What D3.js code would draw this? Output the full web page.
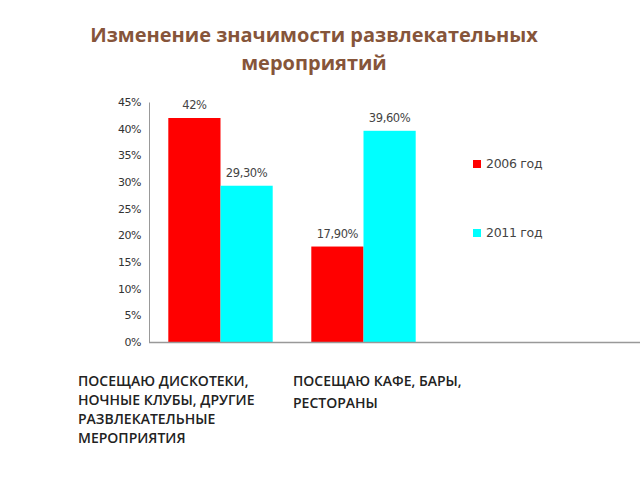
<!DOCTYPE html>
<html>
<head>
<meta charset="utf-8">
<script src="https://cdn.jsdelivr.net/npm/d3@7"></script>
<style>
  body { margin: 0; background: #fff; }
</style>
</head>
<body>
<svg id="chart" width="640" height="480"></svg>
<script>
// данные
let categories = ["ПОСЕЩАЮ ДИСКОТЕКИ, НОЧНЫЕ КЛУБЫ, ДРУГИЕ РАЗВЛЕКАТЕЛЬНЫЕ МЕРОПРИЯТИЯ", "ПОСЕЩАЮ КАФЕ, БАРЫ, РЕСТОРАНЫ"];
let series = ["2006 год", "2011 год"];
let values2006 = [42, 17.9];
let values2011 = [29.3, 39.6];
let valueLabels2006 = ["42%", "17,90%"];
let valueLabels2011 = ["29,30%", "39,60%"];
let yTicks = [0, 5, 10, 15, 20, 25, 30, 35, 40, 45];
let categoryLines = [
  ["ПОСЕЩАЮ ДИСКОТЕКИ,", "НОЧНЫЕ КЛУБЫ, ДРУГИЕ", "РАЗВЛЕКАТЕЛЬНЫЕ", "МЕРОПРИЯТИЯ"],
  ["ПОСЕЩАЮ КАФЕ, БАРЫ,", "РЕСТОРАНЫ"]
];

init();
function init(){
  let svg = d3.select("#chart");
  let colors = ["#ff0000", "#00ffff"];
  let left = 149, bottom = 342, top = 102, bandW = 143;

  // заголовок
  let title = svg.append("text")
    .attr("x", 314).attr("y", 42)
    .attr("text-anchor", "middle")
    .attr("fill", "#86553a")
    .style("font-family", "'Open Sans', 'Noto Sans', sans-serif")
    .style("font-size", "20px")
    .style("font-weight", "bold");
  title.append("tspan").attr("x", 314).attr("dy", 0).text("Изменение значимости развлекательных");
  title.append("tspan").attr("x", 314).attr("dy", 28).text("мероприятий");

  let x0 = d3.scaleBand()
    .domain(categories)
    .range([left, left + bandW * categories.length])
    .paddingInner(0.27)
    .paddingOuter(0.135);
  let x1 = d3.scaleBand().domain(series).range([0, x0.bandwidth()]);
  let y = d3.scaleLinear().domain([0, 45]).range([bottom, top]);

  // ось Y
  let yAxis = d3.axisLeft(y)
    .tickValues(yTicks)
    .tickSize(0)
    .tickPadding(8)
    .tickFormat(d => d + "%");
  let gy = svg.append("g").attr("transform", "translate(" + left + ",0)").call(yAxis);
  gy.select(".domain").attr("stroke", "#999");
  gy.selectAll("text")
    .attr("fill", "#333")
    .style("font-family", "'DejaVu Sans', sans-serif")
    .style("font-size", "11px")
    .style("letter-spacing", "-0.5px");

  // столбцы
  let rows = categories.map((c, i) => ({cat: c, vals: [values2006[i], values2011[i]], labs: [valueLabels2006[i], valueLabels2011[i]]}));
  let groups = svg.selectAll("g.cat")
    .data(rows)
    .enter()
    .append("g")
    .attr("class", "cat")
    .attr("transform", d => "translate(" + x0(d.cat) + ",0)");

  groups.selectAll("rect")
    .data(d => d.vals.map((v, j) => ({s: series[j], v: v, j: j})))
    .enter()
    .append("rect")
    .attr("x", d => x1(d.s))
    .attr("y", d => y(d.v))
    .attr("width", x1.bandwidth())
    .attr("height", d => bottom - y(d.v))
    .attr("fill", d => colors[d.j]);

  groups.selectAll("text.val")
    .data(d => d.vals.map((v, j) => ({s: series[j], v: v, lab: d.labs[j]})))
    .enter()
    .append("text")
    .attr("class", "val")
    .attr("x", d => x1(d.s) + x1.bandwidth() / 2)
    .attr("y", d => y(d.v) - 9)
    .attr("text-anchor", "middle")
    .attr("fill", "#444")
    .style("font-family", "'DejaVu Sans', sans-serif")
    .style("font-size", "11.5px")
    .style("letter-spacing", "-0.4px")
    .text(d => d.lab);

  // ось X
  svg.append("line")
    .attr("x1", left).attr("x2", 640)
    .attr("y1", bottom + 0.5).attr("y2", bottom + 0.5)
    .attr("stroke", "#999").attr("stroke-width", 1.5);

  // подписи категорий
  let catX = [78, 293];
  let catGap = [19, 22];
  categoryLines.forEach((lines, i) => {
    let t = svg.append("text")
      .attr("x", catX[i]).attr("y", 386)
      .attr("fill", "#222")
      .style("font-family", "'Open Sans', 'Noto Sans', sans-serif")
      .style("font-size", "14px")
      .style("font-weight", "600");
    lines.forEach((ln, k) => {
      t.append("tspan").attr("x", catX[i]).attr("dy", k === 0 ? 0 : catGap[i]).text(ln);
    });
  });

  // легенда
  let legend = svg.selectAll("g.leg")
    .data(series)
    .enter()
    .append("g")
    .attr("class", "leg")
    .attr("transform", (d, i) => "translate(473," + (160 + i * 69) + ")");
  legend.append("rect")
    .attr("width", 8).attr("height", 8)
    .attr("fill", (d, i) => colors[i]);
  legend.append("text")
    .attr("x", 13).attr("y", 8)
    .attr("fill", "#444")
    .style("font-family", "'DejaVu Sans', sans-serif")
    .style("font-size", "12.5px")
    .style("letter-spacing", "-0.3px")
    .text(d => d);
}
</script>
</body>
</html>
